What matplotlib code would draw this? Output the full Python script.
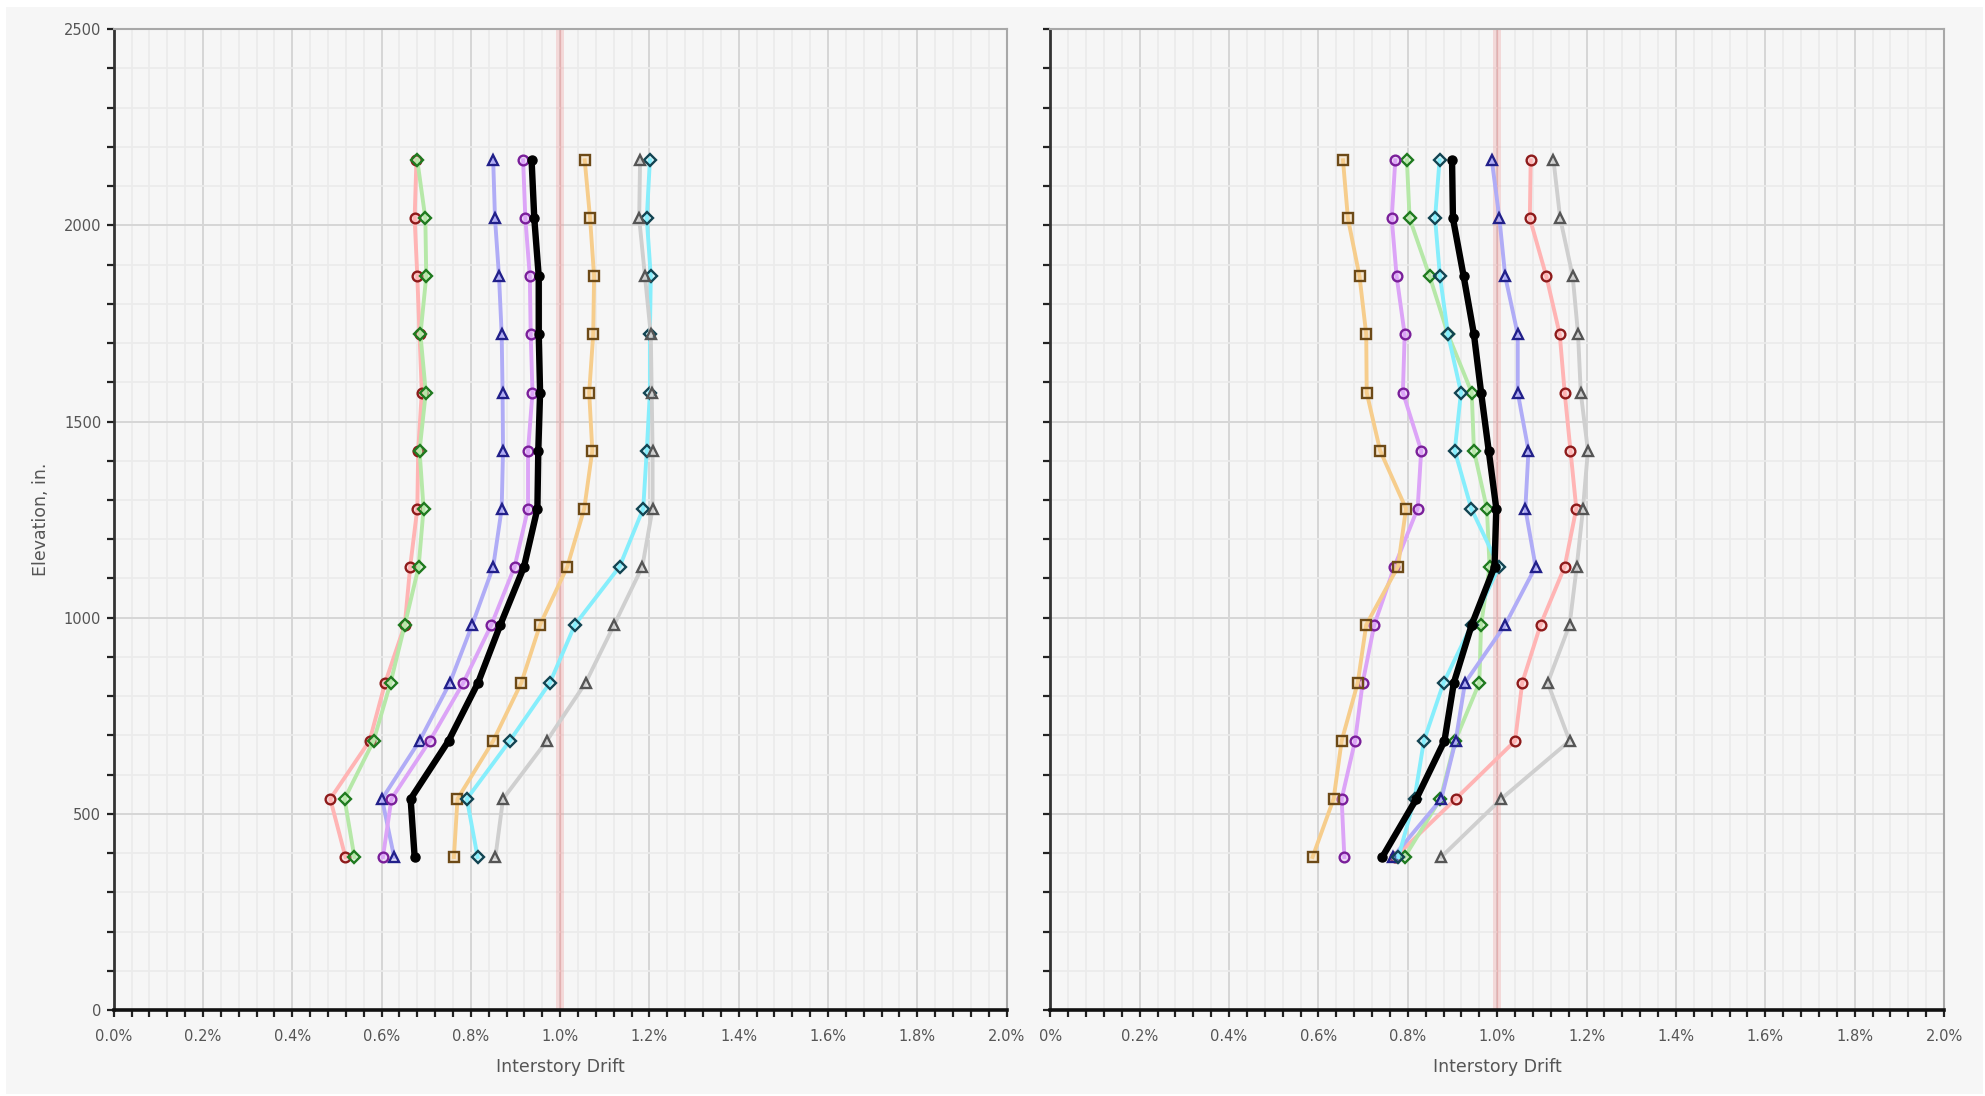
import matplotlib
matplotlib.use("Agg")
import matplotlib.pyplot as plt
from matplotlib.colors import to_rgb
from matplotlib.patches import Rectangle
from matplotlib.ticker import MultipleLocator, FixedLocator, FixedFormatter

plt.rcParams['font.family'] = ['Liberation Sans Narrow', 'DejaVu Sans']

# Floor elevations (in.)
elevations = [390, 538, 686, 834, 982, 1130, 1278, 1426, 1574, 1722, 1870, 2018, 2166]

# Left panel: interstory drift (%) per ground motion, plus the mean
left_red = [0.519, 0.485, 0.573, 0.608, 0.652, 0.664, 0.680, 0.682, 0.690, 0.685, 0.680, 0.674, 0.678]
left_green = [0.539, 0.517, 0.582, 0.620, 0.652, 0.683, 0.694, 0.685, 0.699, 0.687, 0.700, 0.698, 0.680]
left_blue = [0.628, 0.601, 0.685, 0.753, 0.803, 0.850, 0.869, 0.872, 0.871, 0.869, 0.863, 0.854, 0.850]
left_purple = [0.603, 0.622, 0.708, 0.783, 0.846, 0.898, 0.928, 0.928, 0.938, 0.934, 0.932, 0.922, 0.917]
left_orange = [0.762, 0.770, 0.850, 0.913, 0.955, 1.016, 1.054, 1.072, 1.065, 1.074, 1.076, 1.067, 1.055]
left_cyan = [0.815, 0.791, 0.887, 0.977, 1.033, 1.133, 1.186, 1.194, 1.201, 1.201, 1.203, 1.194, 1.201]
left_gray = [0.855, 0.872, 0.970, 1.057, 1.121, 1.184, 1.207, 1.207, 1.205, 1.203, 1.190, 1.177, 1.179]
left_mean = [0.674, 0.665, 0.750, 0.816, 0.866, 0.919, 0.949, 0.951, 0.955, 0.952, 0.952, 0.942, 0.936]

# Right panel
right_orange = [0.587, 0.634, 0.652, 0.688, 0.707, 0.778, 0.796, 0.738, 0.708, 0.707, 0.692, 0.666, 0.655]
right_purple = [0.658, 0.652, 0.682, 0.699, 0.725, 0.770, 0.822, 0.830, 0.789, 0.793, 0.775, 0.764, 0.772]
right_green = [0.793, 0.873, 0.906, 0.960, 0.964, 0.983, 0.977, 0.948, 0.943, 0.890, 0.849, 0.804, 0.798]
right_cyan = [0.779, 0.815, 0.836, 0.880, 0.943, 1.004, 0.942, 0.905, 0.919, 0.890, 0.872, 0.861, 0.871]
right_blue = [0.767, 0.875, 0.907, 0.928, 1.018, 1.086, 1.063, 1.070, 1.046, 1.046, 1.018, 1.005, 0.988]
right_red = [0.772, 0.907, 1.040, 1.056, 1.097, 1.151, 1.177, 1.164, 1.151, 1.140, 1.110, 1.073, 1.075]
right_gray = [0.875, 1.009, 1.162, 1.113, 1.162, 1.178, 1.192, 1.203, 1.187, 1.181, 1.169, 1.141, 1.126]
right_mean = [0.743, 0.819, 0.882, 0.903, 0.943, 0.994, 0.998, 0.981, 0.964, 0.948, 0.925, 0.901, 0.899]

drift_limit = 1.0

x_ticks = [0.0, 0.2, 0.4, 0.6, 0.8, 1.0, 1.2, 1.4, 1.6, 1.8, 2.0]
left_xlabels = ["0.0%", "0.2%", "0.4%", "0.6%", "0.8%", "1.0%", "1.2%", "1.4%", "1.6%", "1.8%", "2.0%"]
right_xlabels = ["0%", "0.2%", "0.4%", "0.6%", "0.8%", "1.0%", "1.2%", "1.4%", "1.6%", "1.8%", "2.0%"]
y_ticks = [0, 500, 1000, 1500, 2000, 2500]
y_labels = ["0", "500", "1000", "1500", "2000", "2500"]

# style per record: (line colour, marker, marker edge colour)
styles = {
    "red": ("#ffb4b4", "o", "#8e1b1b"),
    "green": ("#b6e8a8", "D", "#1f7a1f"),
    "blue": ("#b0acf6", "^", "#22208a"),
    "purple": ("#dca4f7", "o", "#7a1f9a"),
    "orange": ("#f6cd8c", "s", "#6d4a17"),
    "cyan": ("#86eefc", "D", "#124452"),
    "gray": ("#cfcfcf", "^", "#555555"),
}

BG = "#f6f6f6"
TXT = "#555555"

fig = plt.figure(figsize=(19.85, 10.96), dpi=100, facecolor="white")
fig.patches.append(Rectangle((0.003, 0.002), 0.996, 0.992, transform=fig.transFigure,
                             facecolor=BG, edgecolor="none", zorder=-10))

ax_l = fig.add_axes([0.0573, 0.0785, 0.4498, 0.8948])
ax_r = fig.add_axes([0.5291, 0.0785, 0.4503, 0.8948])


def draw_panel(ax, series, mean, xlabels, show_ylabels):
    ax.set_facecolor(BG)
    ax.set_xlim(0, 2.0)
    ax.set_ylim(0, 2500)
    ax.axvspan(drift_limit - 0.0095, drift_limit + 0.0095, color="#ee9a9a", alpha=0.32,
               lw=0, zorder=1)
    ax.axvline(drift_limit, color="#eaa0a0", lw=1.0, alpha=0.5, zorder=1)
    for name, vals in series:
        lc, mk, ec = styles[name]
        face = (*to_rgb(lc), 0.35)
        ms = 7.5 if mk == "^" else (6 if mk == "D" else 7)
        ax.plot(vals, elevations, color=lc, lw=2.8, marker=mk, ms=ms,
                markerfacecolor=face, markeredgecolor=ec, markeredgewidth=1.7,
                zorder=3, solid_joinstyle="round")
    ax.plot(mean, elevations, color="black", lw=4.6, marker="o", ms=6.5,
            markerfacecolor="black", markeredgecolor="black", zorder=5,
            solid_joinstyle="round")

    ax.xaxis.set_major_locator(FixedLocator(x_ticks))
    ax.xaxis.set_major_formatter(FixedFormatter(xlabels))
    ax.xaxis.set_minor_locator(MultipleLocator(0.04))
    ax.yaxis.set_major_locator(FixedLocator(y_ticks))
    ax.yaxis.set_minor_locator(MultipleLocator(100))
    if show_ylabels:
        ax.yaxis.set_major_formatter(FixedFormatter(y_labels))
    else:
        ax.yaxis.set_major_formatter(FixedFormatter([""] * len(y_ticks)))

    ax.grid(which="major", color="#d6d6d6", lw=1.4, zorder=0)
    ax.grid(which="minor", color="#ebebeb", lw=1.2, zorder=0)
    ax.set_axisbelow(True)

    ax.tick_params(axis="both", which="both", direction="out", length=5, width=1.6,
                   color="#222222", labelcolor=TXT)
    ax.tick_params(axis="x", which="major", labelsize=10.5, pad=9)
    ax.tick_params(axis="y", which="major", labelsize=10.5, pad=4)

    for side in ("top", "right"):
        ax.spines[side].set_color("#a8a8a8")
        ax.spines[side].set_linewidth(1.5)
    ax.spines["left"].set_color("#333333")
    ax.spines["left"].set_linewidth(2.0)
    ax.spines["bottom"].set_color("#111111")
    ax.spines["bottom"].set_linewidth(2.6)

    ax.set_xlabel("Interstory Drift", fontsize=12.5, color=TXT)
    ax.xaxis.set_label_coords(0.5, -0.058)
    ax.xaxis.label.set_va("center")


draw_panel(ax_l,
           [("red", left_red), ("green", left_green), ("blue", left_blue),
            ("purple", left_purple), ("orange", left_orange), ("cyan", left_cyan),
            ("gray", left_gray)],
           left_mean, left_xlabels, True)
draw_panel(ax_r,
           [("red", right_red), ("green", right_green), ("blue", right_blue),
            ("purple", right_purple), ("orange", right_orange), ("cyan", right_cyan),
            ("gray", right_gray)],
           right_mean, right_xlabels, False)

ax_l.set_ylabel("Elevation, in.", fontsize=12.5, color=TXT)
ax_l.yaxis.set_label_coords(-0.082, 0.5)
ax_l.yaxis.label.set_va("center")

fig.savefig("out.png", dpi=100, facecolor="white")
